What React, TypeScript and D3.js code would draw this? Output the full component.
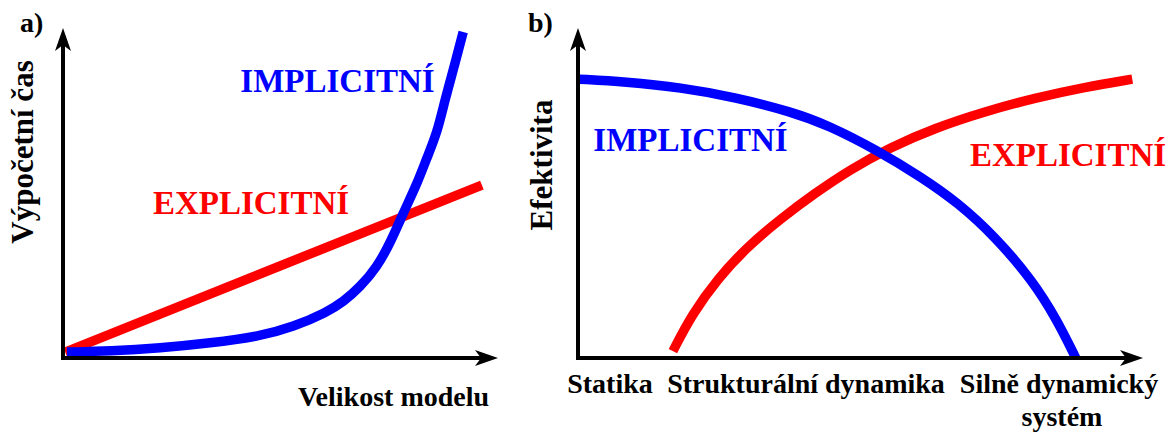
import React from "react";
import * as d3 from "d3";

// Panel a) – computation time vs. model size (normalised 0..100)
const implicitA: [number, number][] = [
  [0.9, 1.8], [10.8, 2.1], [22.3, 3.0], [33.8, 4.5], [45.3, 6.6], [52.9, 9.4],
  [60.7, 13.9], [64.4, 17.0], [68.3, 21.5], [72.2, 27.6], [75.2, 34.8], [78.2, 43.9],
  [81.4, 52.8], [83.6, 60.5], [86.0, 68.2], [87.8, 78.2], [89.9, 88.2], [92.0, 98.8],
];
const explicitA: [number, number][] = [
  [0.5, 1.8], [96.3, 52.4],
];

// Panel b) – efficiency vs. type of problem (normalised 0..100)
const implicitB: [number, number][] = [
  [0.2, 84.5], [8.3, 83.7], [18.2, 82.0], [27.9, 79.0], [37.8, 74.6], [44.2, 70.6],
  [52.9, 63.0], [60.7, 54.9], [67.3, 47.0], [73.8, 36.8], [80.4, 23.6], [84.8, 11.5], [88.1, 0],
];
const explicitB: [number, number][] = [
  [16.8, 2.1], [20.2, 13.3], [24.8, 24.2], [29.9, 33.6], [35.8, 42.1], [42.0, 50.0],
  [48.1, 57.0], [55.2, 63.8], [63.2, 69.7], [72.0, 74.7], [80.9, 78.8], [89.7, 82.1], [98.1, 84.5],
];

const panelLabels = ["a)", "b)"];
const seriesNames = ["IMPLICITNÍ", "EXPLICITNÍ"];
const yTitles = ["Výpočetní čas", "Efektivita"];
const xTitleA = "Velikost modelu";
const categoriesB = ["Statika", "Strukturální dynamika", "Silně dynamický", "systém"];

const BLUE = "#0000ff";
const RED = "#ff0000";
const FONT = '"Liberation Serif", "Tinos", "Times", "Nimbus Roman", "FreeSerif", "Source Serif Pro"';

function Arrow({ x1, y1, x2, y2 }: { x1: number; y1: number; x2: number; y2: number }) {
  const ang = Math.atan2(y2 - y1, x2 - x1);
  const L = 23, W = 8, N = 17;
  const c = Math.cos(ang), s = Math.sin(ang);
  const p = (a: number, b: number) => [x2 - a * c - b * s, y2 - a * s + b * c];
  const [bx1, by1] = p(L, W);
  const [nx, ny] = p(N, 0);
  const [bx2, by2] = p(L, -W);
  const [lx, ly] = p(N - 2, 0);
  return (
    <g>
      <line x1={x1} y1={y1} x2={lx} y2={ly} stroke="#000" strokeWidth={4} />
      <path d={`M${x2},${y2}L${bx1},${by1}L${nx},${ny}L${bx2},${by2}Z`} fill="#000" />
    </g>
  );
}

function Label({ x, y, size, fill = "#000", anchor = "start", rotate = 0, children }:
  { x: number; y: number; size: number; fill?: string; anchor?: string; rotate?: number; children: React.ReactNode }) {
  return (
    <text
      transform={`translate(${x},${y}) rotate(${rotate})`}
      fill={fill}
      textAnchor={anchor as any}
      style={{ fontFamily: FONT, fontWeight: 700, fontSize: size }}
    >
      {children}
    </text>
  );
}

export default function App() {
  // panel a scales
  const xa = d3.scaleLinear().domain([0, 100]).range([63, 498]);
  const ya = d3.scaleLinear().domain([0, 100]).range([358, 28]);
  // panel b scales
  const xb = d3.scaleLinear().domain([0, 100]).range([578, 1143]);
  const yb = d3.scaleLinear().domain([0, 100]).range([358, 28]);

  const lineA = d3.line<[number, number]>().x(d => xa(d[0])).y(d => ya(d[1])).curve(d3.curveBasis);
  const lineB = d3.line<[number, number]>().x(d => xb(d[0])).y(d => yb(d[1])).curve(d3.curveBasis);

  const SW = 9.5;

  return (
    <svg width={1176} height={434} style={{ position: "absolute", left: 0, top: 0, fontFamily: FONT, fontWeight: 700 }}>
      {/* Panel a */}
      <path d={lineA(explicitA) || ""} fill="none" stroke={RED} strokeWidth={SW} />
      <path d={lineA(implicitA) || ""} fill="none" stroke={BLUE} strokeWidth={SW} />
      <Arrow x1={xa(0)} y1={ya(0) + 2} x2={xa(0)} y2={ya(100)} />
      <Arrow x1={xa(0) - 2} y1={ya(0)} x2={xa(100)} y2={ya(0)} />
      <Label x={20} y={32} size={28}>{panelLabels[0]}</Label>
      <Label x={337.5} y={92} size={33} fill={BLUE} anchor="middle">{seriesNames[0]}</Label>
      <Label x={251} y={214} size={33} fill={RED} anchor="middle">{seriesNames[1]}</Label>
      <Label x={393.5} y={406} size={28} anchor="middle">{xTitleA}</Label>
      <Label x={33} y={152} size={31} anchor="middle" rotate={-90}>{yTitles[0]}</Label>

      {/* Panel b */}
      <path d={lineB(explicitB) || ""} fill="none" stroke={RED} strokeWidth={SW} />
      <path d={lineB(implicitB) || ""} fill="none" stroke={BLUE} strokeWidth={SW} />
      <Arrow x1={xb(0)} y1={yb(0) + 2} x2={xb(0)} y2={yb(100)} />
      <Arrow x1={xb(0) - 2} y1={yb(0)} x2={xb(100)} y2={yb(0)} />
      <Label x={528} y={32} size={28}>{panelLabels[1]}</Label>
      <Label x={690.5} y={151} size={33} fill={BLUE} anchor="middle">{seriesNames[0]}</Label>
      <Label x={1068} y={166} size={33} fill={RED} anchor="middle">{seriesNames[1]}</Label>
      <Label x={552} y={165} size={31} anchor="middle" rotate={-90}>{yTitles[1]}</Label>
      <Label x={610} y={393} size={28} anchor="middle">{categoriesB[0]}</Label>
      <Label x={806} y={393} size={28} anchor="middle">{categoriesB[1]}</Label>
      <Label x={1059} y={393} size={28} anchor="middle">{categoriesB[2]}</Label>
      <Label x={1062} y={426} size={28} anchor="middle">{categoriesB[3]}</Label>
    </svg>
  );
}
